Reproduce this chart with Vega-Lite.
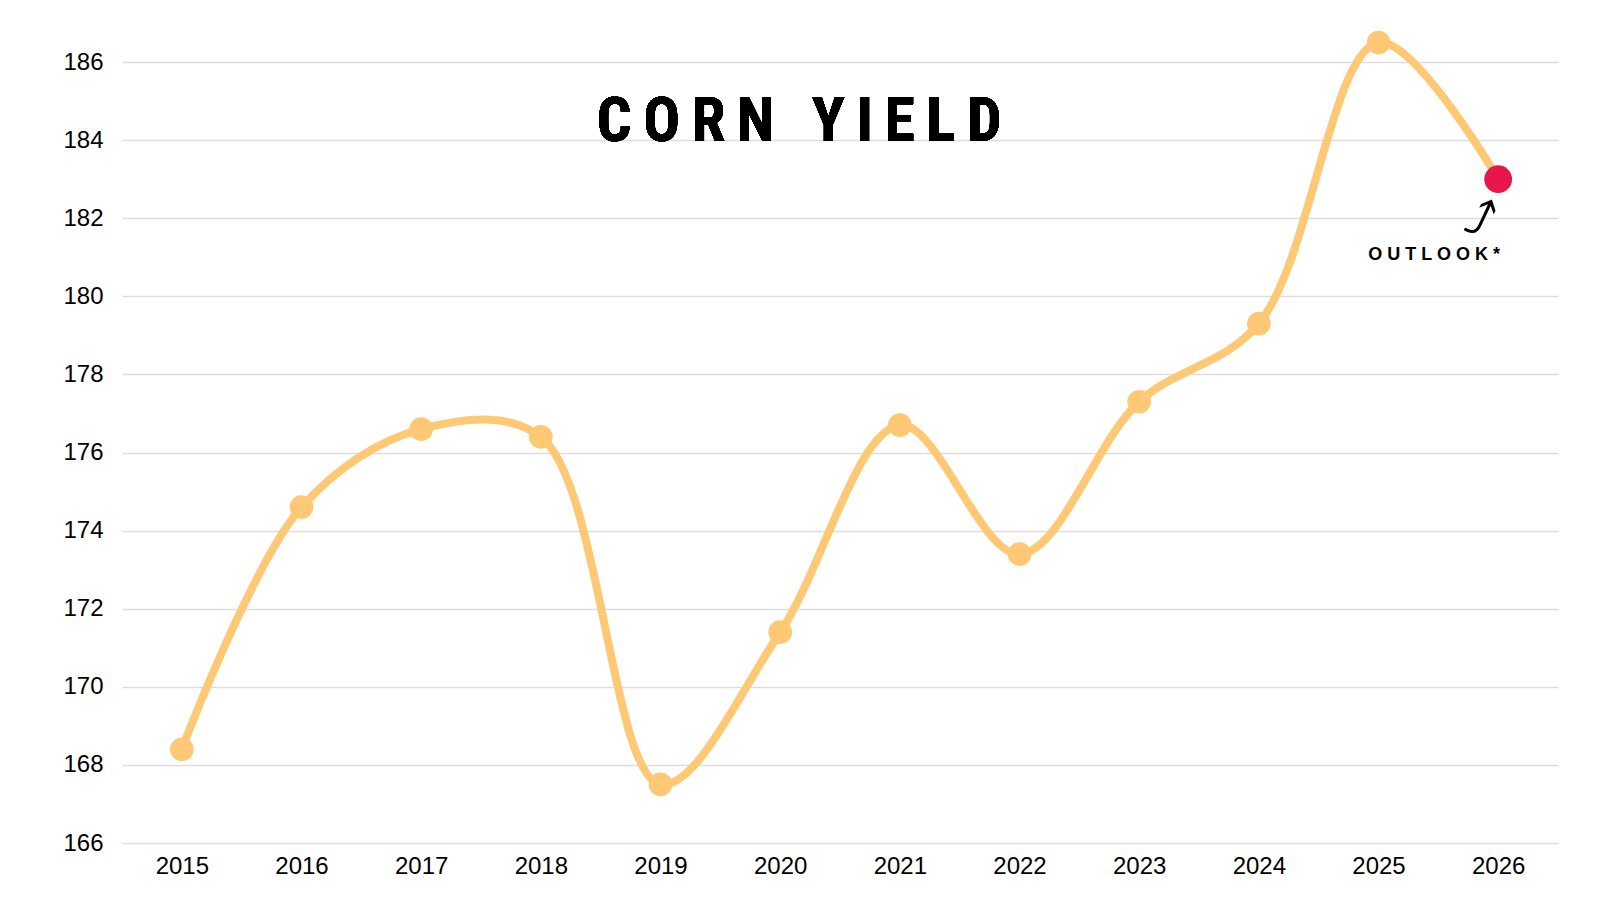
{
  "$schema": "https://vega.github.io/schema/vega-lite/v6.json",
  "width": 1436,
  "height": 820,
  "autosize": "none",
  "padding": {"left": 122, "top": 23, "right": 42, "bottom": 57},
  "background": "white",
  "config": {
    "view": {"stroke": null},
    "axis": {"labelFont": "Liberation Sans", "labelFontSize": 24, "labelColor": "#000000", "title": null, "domain": false, "ticks": false}
  },
  "data": {
    "values": [
      {"year": "2015", "yield": 168.4, "type": "actual"},
      {"year": "2016", "yield": 174.6, "type": "actual"},
      {"year": "2017", "yield": 176.6, "type": "actual"},
      {"year": "2018", "yield": 176.4, "type": "actual"},
      {"year": "2019", "yield": 167.5, "type": "actual"},
      {"year": "2020", "yield": 171.4, "type": "actual"},
      {"year": "2021", "yield": 176.7, "type": "actual"},
      {"year": "2022", "yield": 173.4, "type": "actual"},
      {"year": "2023", "yield": 177.3, "type": "actual"},
      {"year": "2024", "yield": 179.3, "type": "actual"},
      {"year": "2025", "yield": 186.5, "type": "actual"},
      {"year": "2026", "yield": 183.0, "type": "outlook"}
    ]
  },
  "encoding": {
    "x": {"field": "year", "type": "ordinal", "scale": {"type": "point", "padding": 0.5},
      "axis": {"labelAngle": 0, "labelPadding": 11, "grid": false}},
    "y": {"field": "yield", "type": "quantitative", "scale": {"domain": [166, 187], "nice": false, "zero": false},
      "axis": {"values": [166, 168, 170, 172, 174, 176, 178, 180, 182, 184, 186], "grid": true, "gridColor": "#DDDDDD", "gridWidth": 1.5, "labelPadding": 19}}
  },
  "layer": [
    {
      "mark": {"type": "text", "text": "C\u2009O\u2009R\u2009N\u2009\u00a0\u2009Y\u2009I\u2009E\u2009L\u2009D", "font": "Roboto Condensed, Roboto, sans-serif", "fontWeight": "bold", "fontSize": 61, "baseline": "middle", "align": "center", "dx": 19, "color": "#000000"},
      "encoding": {"x": {"datum": "2020"}, "y": {"datum": 184.43}}
    },
    {
      "mark": {"type": "line", "interpolate": "catmull-rom", "color": "#FFC875", "strokeWidth": 8, "clip": false}
    },
    {
      "mark": {"type": "point", "filled": true, "opacity": 1, "clip": false},
      "encoding": {
        "color": {"field": "type", "type": "nominal", "scale": {"domain": ["actual", "outlook"], "range": ["#FFC875", "#E8174A"]}, "legend": null},
        "size": {"field": "type", "type": "nominal", "scale": {"domain": ["actual", "outlook"], "range": [560, 770]}, "legend": null}
      }
    },
    {
      "transform": [{"filter": "datum.type === 'outlook'"}],
      "mark": {"type": "text", "text": "O U T L O O K *", "font": "Liberation Sans", "fontWeight": "bold", "fontSize": 18, "align": "center", "baseline": "middle", "dx": -64, "dy": 76, "color": "#000000"}
    },
    {
      "transform": [{"filter": "datum.type === 'outlook'"}],
      "mark": {"type": "text", "text": "⤴", "font": "DejaVu Sans", "fontSize": 52, "angle": 25, "align": "center", "baseline": "middle", "dx": 1, "dy": 46, "color": "#000000"}
    }
  ]
}
